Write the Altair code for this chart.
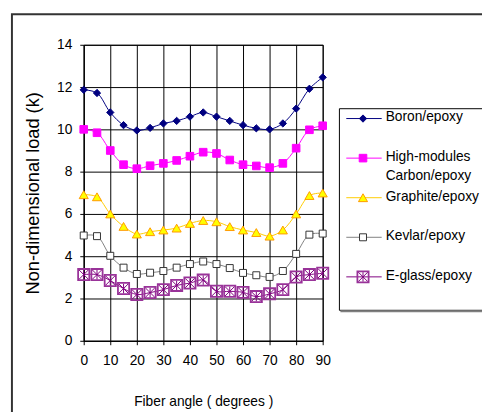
import altair as alt
import pandas as pd

# ---------------- data ----------------
angles = [0, 5, 10, 15, 20, 25, 30, 35, 40, 45, 50, 55, 60, 65, 70, 75, 80, 85, 90]
boron = [11.87, 11.72, 10.80, 10.20, 9.95, 10.07, 10.28, 10.40, 10.60, 10.80,
         10.60, 10.40, 10.20, 10.05, 10.00, 10.28, 10.98, 11.92, 12.46]
carbon = [10.00, 9.84, 9.00, 8.33, 8.14, 8.28, 8.39, 8.53, 8.73, 8.92,
          8.86, 8.55, 8.33, 8.27, 8.19, 8.39, 9.11, 9.98, 10.17]
graphite = [6.91, 6.81, 6.00, 5.41, 5.05, 5.16, 5.24, 5.33, 5.55, 5.69,
            5.63, 5.40, 5.24, 5.12, 4.95, 5.24, 6.00, 6.87, 6.99]
kevlar = [4.98, 4.95, 4.02, 3.46, 3.16, 3.22, 3.30, 3.46, 3.63, 3.75,
          3.63, 3.44, 3.21, 3.10, 3.02, 3.30, 4.11, 5.02, 5.07]
eglass = [3.13, 3.13, 2.85, 2.47, 2.19, 2.28, 2.42, 2.62, 2.73, 2.87,
          2.34, 2.34, 2.29, 2.09, 2.22, 2.42, 3.02, 3.13, 3.19]

series_names = ["Boron/epoxy", "High-modules Carbon/epoxy", "Graphite/epoxy",
                "Kevlar/epoxy", "E-glass/epoxy"]
legend_labels = ["Boron/epoxy", "High-modules\nCarbon/epoxy", "Graphite/epoxy",
                 "Kevlar/epoxy", "E-glass/epoxy"]
series_values = [boron, carbon, graphite, kevlar, eglass]

x_ticks = [0, 10, 20, 30, 40, 50, 60, 70, 80, 90]
y_ticks = [0, 2, 4, 6, 8, 10, 12, 14]

x_title = "Fiber angle ( degrees )"
y_title = "Non-dimensional load (k)"

# ---------------- tables ----------------
rows = []
for name, vals in zip(series_names, series_values):
    for a, v in zip(angles, vals):
        rows.append({"series": name, "angle": a, "value": v})
df = pd.DataFrame(rows)
legend_df = pd.DataFrame({"series": series_names, "idx": list(range(len(series_names))),
                          "label": legend_labels})

FONT = "Liberation Sans"
ASTERISK = "M-1,-1L1,1M-1,1L1,-1M0,-1V1"

styles = {
    "Boron/epoxy": dict(line="#000080", shape="diamond", fill="#000080", stroke="#000080", size=55, sw=1),
    "High-modules Carbon/epoxy": dict(line="#FF00FF", shape="square", fill="#FF00FF", stroke="#FF00FF", size=60, sw=1),
    "Graphite/epoxy": dict(line="#FFCC00", shape="triangle-up", fill="#FFFF00", stroke="#FF9900", size=85, sw=1),
    "Kevlar/epoxy": dict(line="#808080", shape="square", fill="#FFFFFF", stroke="#333333", size=50, sw=1),
    "E-glass/epoxy": dict(line="#800080", shape="square", fill="transparent", stroke="#993399", size=130, sw=1.8),
}

x_enc = alt.X("angle:Q", scale=alt.Scale(domain=[0, 90], nice=False),
              axis=alt.Axis(values=x_ticks, title=x_title, grid=True, gridColor="#000000",
                            gridOpacity=1, domainColor="#000000", tickColor="#000000",
                            tickSize=4, labelFont=FONT, labelFontSize=14, labelColor="#000000",
                            labelPadding=9, labelFlush=False, titleFont=FONT, titleFontSize=14,
                            titleFontWeight="normal", titleColor="#000000", titlePadding=28))
y_enc = alt.Y("value:Q", scale=alt.Scale(domain=[0, 14], nice=False),
              axis=alt.Axis(values=y_ticks, title=y_title, grid=True, gridColor="#000000",
                            gridOpacity=1, domainColor="#000000", tickColor="#000000",
                            tickSize=4, labelFont=FONT, labelFontSize=14, labelColor="#000000",
                            labelPadding=8, titleFont=FONT, titleFontSize=18.5,
                            titleFontWeight="normal", titleColor="#000000", titlePadding=14))

base = alt.Chart(df)
leg_base = alt.Chart(legend_df)
leg_y = alt.Y("idx:Q", scale=alt.Scale(domain=[0, 4], range=[75, 236]), axis=None)

main_layers = []
legend_layers = []

# frame around the whole chart and legend box
frame = alt.Chart(pd.DataFrame({"k": [0]})).mark_rect(
    fill="transparent", stroke="#333333", strokeWidth=2).encode(
    x=alt.value(-73), x2=alt.value(700), y=alt.value(-31), y2=alt.value(700))
legend_box = alt.Chart(pd.DataFrame({"k": [0]})).mark_rect(
    fill="#FFFFFF", stroke="#000000", strokeWidth=1).encode(
    x=alt.value(260), x2=alt.value(700), y=alt.value(65), y2=alt.value(270))
legend_shadow = alt.Chart(pd.DataFrame({"k": [0]})).mark_rule(
    stroke="#808080", strokeWidth=2).encode(
    x=alt.value(261), x2=alt.value(700), y=alt.value(271))
legend_layers += [frame, legend_box, legend_shadow]

for name in series_names:
    st = styles[name]
    sub = base.transform_filter(alt.datum.series == name)
    main_layers.append(sub.mark_line(color=st["line"], strokeWidth=1,
                                     interpolate="catmull-rom").encode(x=x_enc, y=y_enc))
    main_layers.append(sub.mark_point(shape=st["shape"], filled=True, fill=st["fill"],
                                      stroke=st["stroke"], strokeWidth=st["sw"],
                                      size=st["size"], opacity=1).encode(x=x_enc, y=y_enc))
    lsub = leg_base.transform_filter(alt.datum.series == name)
    legend_layers.append(lsub.mark_rule(color=st["line"], strokeWidth=1).encode(
        x=alt.value(267), x2=alt.value(303), y=leg_y))
    legend_layers.append(lsub.mark_point(shape=st["shape"], filled=True, fill=st["fill"],
                                         stroke=st["stroke"], strokeWidth=st["sw"],
                                         size=st["size"], opacity=1).encode(
        x=alt.value(284), y=leg_y))
    if name == "E-glass/epoxy":
        main_layers.append(sub.mark_point(shape=ASTERISK, filled=False, stroke="#800080",
                                          strokeWidth=1, size=90, opacity=1).encode(x=x_enc, y=y_enc))
        legend_layers.append(lsub.mark_point(shape=ASTERISK, filled=False, stroke="#800080",
                                             strokeWidth=1, size=90, opacity=1).encode(
            x=alt.value(284), y=leg_y))

legend_layers.append(leg_base.mark_text(align="left", baseline="top", dy=-8, lineBreak="\n",
                                        lineHeight=19, font=FONT, fontSize=14,
                                        color="#000000").encode(
    x=alt.value(307), y=leg_y, text="label:N"))

legend = alt.layer(*legend_layers)
main = alt.layer(*main_layers)

chart = alt.layer(legend, main).resolve_scale(y="independent").properties(
    width=243, height=301,
    padding={"left": 77, "top": 34, "right": 162, "bottom": 69},
    autosize=alt.AutoSizeParams(type="none"),
).configure_view(stroke="#000000", strokeWidth=1)

chart.save("out.html", embed_options={"renderer": "svg", "actions": False})
